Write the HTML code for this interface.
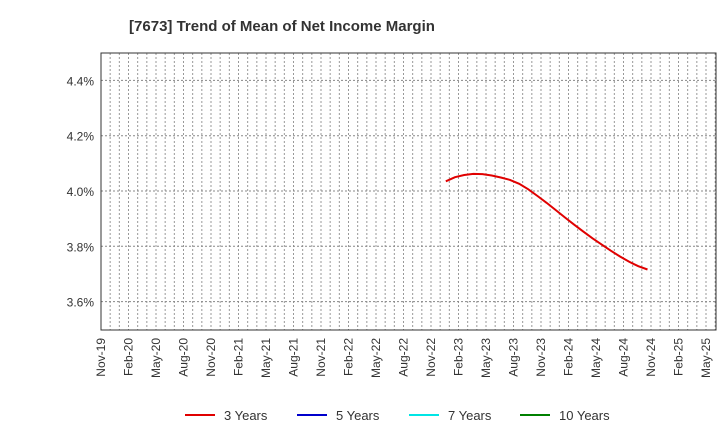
<!DOCTYPE html>
<html><head><meta charset="utf-8"><style>
body{margin:0;background:#fff;font-family:"Liberation Sans",sans-serif}
</style></head><body>
<svg id="c" width="720" height="440" xmlns="http://www.w3.org/2000/svg">
<text x="282" y="31" text-anchor="middle" font-size="15" font-weight="bold" fill="#333">[7673]  Trend of Mean of Net Income Margin</text>
<g id="grid"></g><g id="axes"></g><g id="series"></g>
<g id="legend"></g>
</svg>
<script>
const yTicks=[3.6,3.8,4.0,4.2,4.4];
const xLabels=["Nov-19","Feb-20","May-20","Aug-20","Nov-20","Feb-21","May-21","Aug-21","Nov-21","Feb-22","May-22","Aug-22","Nov-22","Feb-23","May-23","Aug-23","Nov-23","Feb-24","May-24","Aug-24","Nov-24","Feb-25","May-25"];
const seriesStartMonth=38; // Jan-23, months since Nov-19
const series3y=[4.035,4.05,4.058,4.062,4.061,4.056,4.049,4.04,4.026,4.006,3.982,3.957,3.931,3.904,3.878,3.853,3.829,3.806,3.784,3.763,3.744,3.728,3.716];
const legendNames=["3 Years","5 Years","7 Years","10 Years"];
const legendColors=["#e00000","#0000cc","#00e5e5","#008000"];
const L=101,R=716,T=53,B=330,MPX=(706-101)/66;
const X=m=>L+m*MPX;
const Y=v=>191-(v-4.0)/0.2*55.3;
const NS="http://www.w3.org/2000/svg";
function mk(t,a,p){const e=document.createElementNS(NS,t);for(const k in a)e.setAttribute(k,a[k]);p.appendChild(e);return e;}
const g=document.getElementById('grid'),ax=document.getElementById('axes'),s=document.getElementById('series'),lg=document.getElementById('legend');
for(let m=1;X(m)<R;m++){const l=mk('line',{x1:X(m),x2:X(m),y1:T,y2:B,stroke:'#999','stroke-dasharray':'2,2','stroke-width':1},g);

}
yTicks.forEach(v=>{const l=mk('line',{x1:L,x2:R,y1:Y(v),y2:Y(v),stroke:'#888','stroke-dasharray':'2,2','stroke-width':1},g);


const t=mk('text',{x:L-7,y:Y(v)+5,'text-anchor':'end','font-size':12,fill:'#333'},ax);t.textContent=v.toFixed(1)+'%';

});
const fr=mk('rect',{x:L,y:T,width:R-L,height:B-T,fill:'none',stroke:'#333','stroke-width':1},ax);


xLabels.forEach((lab,i)=>{const x=X(i*3);const t=mk('text',{x:x+4,y:B+8,'text-anchor':'end','font-size':12,fill:'#333',transform:`rotate(-90 ${x+4} ${B+8})`},ax);t.textContent=lab;

});
const d=series3y.map((v,i)=>(i?'L':'M')+(X(seriesStartMonth+i)-3.5).toFixed(1)+','+Y(v).toFixed(1)).join(' ');
const p=mk('path',{d:d,fill:'none',stroke:'#e00000','stroke-width':2},s);


const lx=[185,297,409,520];
legendNames.forEach((n,i)=>{const l=mk('line',{x1:lx[i],x2:lx[i]+30,y1:415,y2:415,stroke:legendColors[i],'stroke-width':2},lg);


const t=mk('text',{x:lx[i]+39,y:420,'font-size':13,fill:'#333'},lg);t.textContent=n;

});
</script>
</body></html>
